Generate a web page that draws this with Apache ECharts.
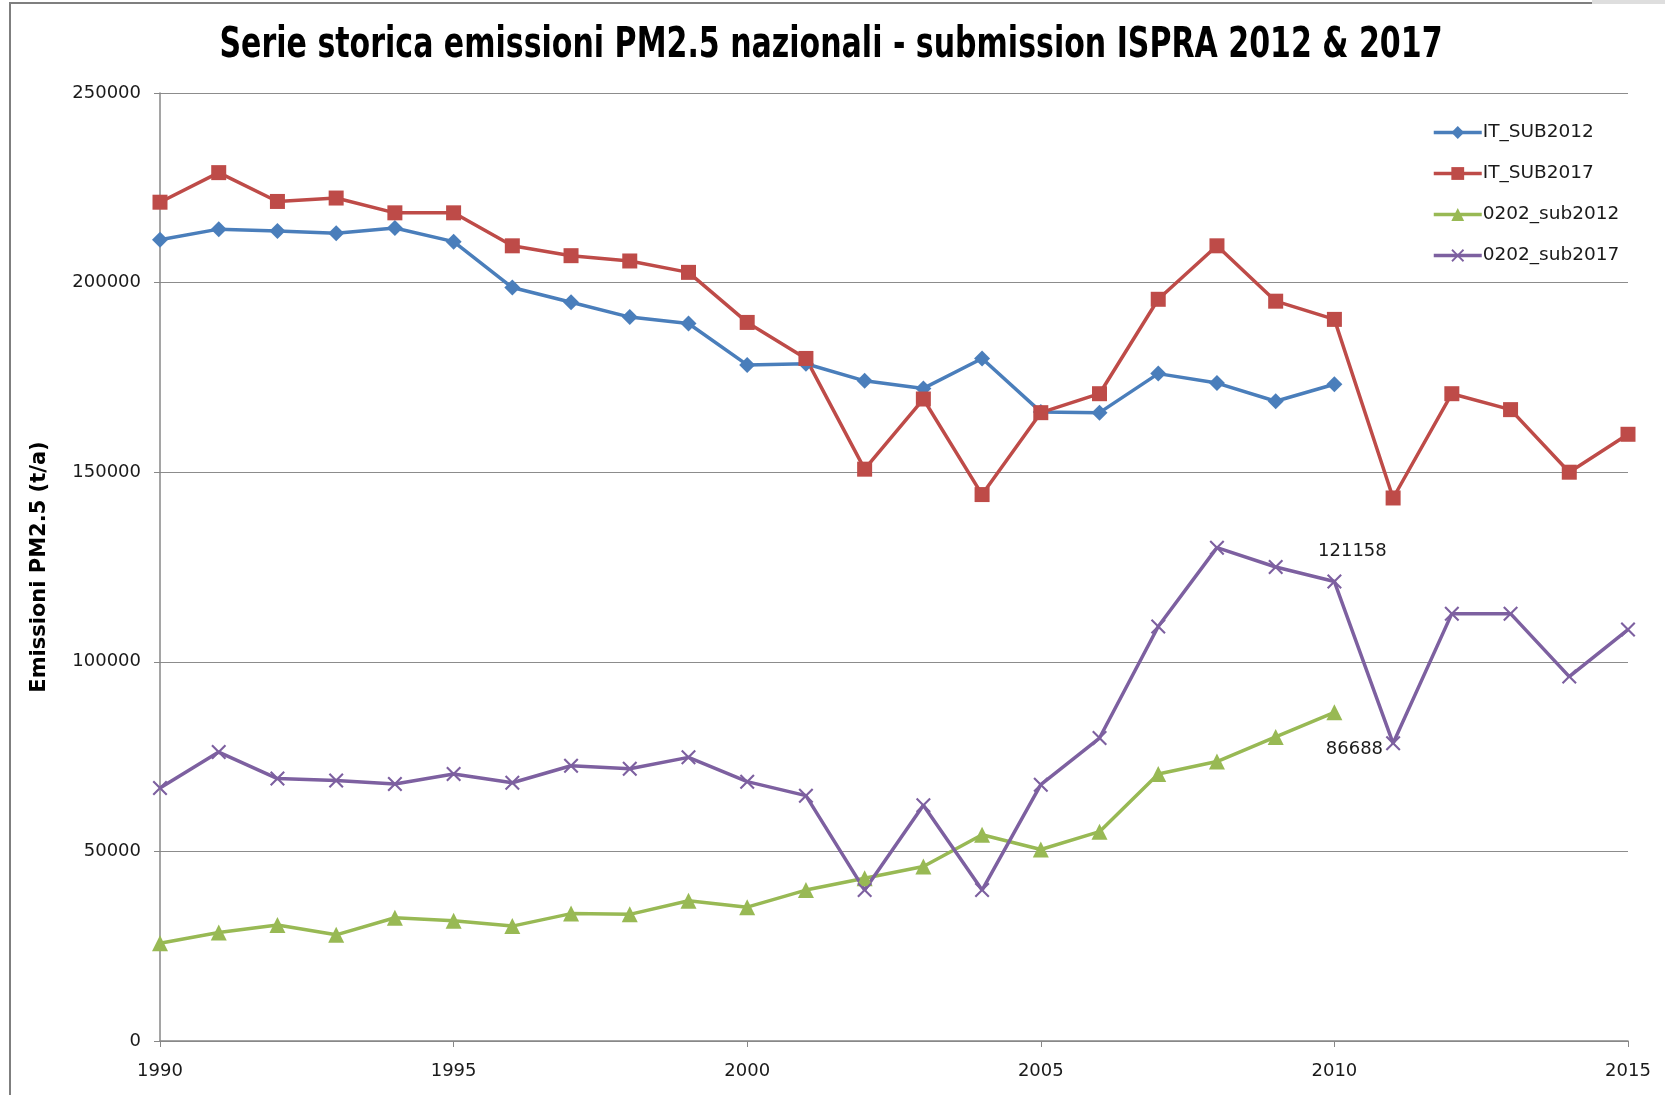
<!DOCTYPE html>
<html lang="it">
<head>
    <meta charset="UTF-8">
    <title>Serie storica emissioni PM2.5</title>
    <script src="https://cdn.jsdelivr.net/npm/echarts@6/dist/echarts.min.js"></script>
    <style type="text/css">
        html, body { height: 100%; margin: 0; background: #ffffff; }
        #main { width: 1665px; height: 1095px; margin: 0; }
    </style>
</head>
<body>
    <div id="main"></div>
    <script type="text/javascript">
        // anni
        var years = [1990, 1991, 1992, 1993, 1994, 1995, 1996, 1997, 1998, 1999,
                     2000, 2001, 2002, 2003, 2004, 2005, 2006, 2007, 2008, 2009,
                     2010, 2011, 2012, 2013, 2014, 2015];
        var xTicks = [1990, 1995, 2000, 2005, 2010, 2015];
        var yTicks = [0, 50000, 100000, 150000, 200000, 250000];

        // emissioni (t/a)
        var itSub2012 = [211300, 214100, 213600, 213000, 214400, 210800, 198700, 194800, 190900, 189200,
                         178300, 178600, 174100, 172100, 180000, 165900, 165700, 176000, 173500, 168700,
                         173200];
        var itSub2017 = [221200, 229000, 221400, 222300, 218400, 218400, 209700, 207100, 205700, 202700,
                         189500, 180000, 150800, 169300, 144100, 165700, 170700, 195600, 209700, 195100,
                         190300, 143200, 170700, 166500, 150000, 160000];
        var sub2012_0202 = [25800, 28600, 30600, 28000, 32500, 31700, 30300, 33600, 33400, 37000,
                            35300, 39800, 42900, 46000, 54400, 50500, 55200, 70400, 73700, 80200,
                            86688];
        var sub2017_0202 = [66700, 76200, 69200, 68700, 67800, 70400, 68100, 72600, 71800, 74800,
                            68400, 64700, 39800, 62200, 39800, 67600, 79900, 109300, 130100, 125000,
                            121158, 78500, 112700, 112700, 96100, 108500];

        var seriesNames = ['IT_SUB2012', 'IT_SUB2017', '0202_sub2012', '0202_sub2017'];
        var lineColors = ['#4A7EBB', '#BE4B48', '#98B954', '#7D60A0'];
        var titleText = 'Serie storica emissioni PM2.5 nazionali - submission ISPRA 2012 & 2017';

        // simbolo a X
        var crossPath = 'path://M0,1 L1,0 L5,4 L9,0 L10,1 L6,5 L10,9 L9,10 L5,6 L1,10 L0,9 L4,5 Z';

        // etichetta solo sul punto labelIdx
        function toPairs(values, labelIdx, labelOffset) {
            return values.map(function (v, i) {
                var item = { value: [years[i], v] };
                if (i === labelIdx) {
                    item.label = {
                        show: true,
                        position: 'inside',
                        offset: labelOffset,
                        color: '#1a1a1a',
                        fontFamily: 'DejaVu Sans',
                        fontSize: 18,
                        formatter: function (p) { return String(p.value[1]); }
                    };
                }
                return item;
            });
        }

        function makeSeries(name, values, color, symbol, size, labelIdx, labelOffset) {
            return {
                name: name,
                type: 'line',
                data: toPairs(values, labelIdx, labelOffset),
                symbol: symbol,
                symbolSize: size,
                showAllSymbol: true,
                lineStyle: { color: color, width: 3.5 },
                itemStyle: { color: color },
                emphasis: { disabled: true },
                z: 3
            };
        }

        var chartDom = document.getElementById('main');
        var myChart = echarts.init(chartDom);

        var option = {
            animation: false,
            backgroundColor: '#ffffff',
            legend: {
                orient: 'vertical',
                left: 1427,
                top: 118,
                itemWidth: 48,
                itemHeight: 16,
                itemGap: 22,
                data: seriesNames,
                lineStyle: { width: 3.5 },
                textStyle: {
                    fontFamily: 'DejaVu Sans',
                    fontSize: 18.5,
                    color: '#1a1a1a',
                    padding: [0, 0, 0, -4]
                }
            },
            graphic: [
                {
                    type: 'rect',
                    shape: { x: 10, y: 3, width: 1700, height: 1200 },
                    style: { fill: 'none', stroke: '#7f7f7f', lineWidth: 2 },
                    silent: true
                },
                {
                    type: 'rect',
                    shape: { x: 1592, y: 0, width: 73, height: 4 },
                    style: { fill: '#dedede' },
                    silent: true
                },
                {
                    // titolo, compresso in orizzontale come un carattere narrow
                    type: 'text',
                    x: 831,
                    y: 25,
                    scaleX: 0.715,
                    style: {
                        text: titleText,
                        x: 0,
                        y: 0,
                        align: 'center',
                        verticalAlign: 'top',
                        fontFamily: 'DejaVu Sans',
                        fontWeight: 'bold',
                        fontSize: 42,
                        fill: '#000000'
                    },
                    silent: true
                }
            ],
            grid: {
                left: 160,
                right: 37,
                top: 93,
                bottom: 54
            },
            xAxis: {
                type: 'value',
                min: 1990,
                max: 2015,
                interval: 5,
                axisLine: { show: true, lineStyle: { color: '#878787', width: 1.5 } },
                axisTick: { show: true, length: 6, lineStyle: { color: '#878787' } },
                splitLine: { show: false },
                axisLabel: {
                    margin: 21,
                    fontFamily: 'DejaVu Sans',
                    fontSize: 18,
                    color: '#1a1a1a',
                    formatter: function (v) { return xTicks.indexOf(v) >= 0 ? String(v) : ''; }
                }
            },
            yAxis: {
                type: 'value',
                min: 0,
                max: 250000,
                interval: 50000,
                name: 'Emissioni PM2.5 (t/a)',
                nameLocation: 'middle',
                nameGap: 110,
                nameRotate: 90,
                nameTextStyle: {
                    fontFamily: 'DejaVu Sans',
                    fontWeight: 'bold',
                    fontSize: 21,
                    color: '#000000'
                },
                axisLine: { show: true, lineStyle: { color: '#878787', width: 1.5 } },
                axisTick: { show: true, length: 6, lineStyle: { color: '#878787' } },
                splitLine: { show: true, lineStyle: { color: '#8c8c8c', width: 1 } },
                axisLabel: {
                    margin: 19,
                    fontFamily: 'DejaVu Sans',
                    fontSize: 18,
                    color: '#1a1a1a',
                    formatter: function (v) { return yTicks.indexOf(v) >= 0 ? String(v) : ''; }
                }
            },
            series: [
                makeSeries(seriesNames[0], itSub2012, lineColors[0], 'diamond', 16, -1),
                makeSeries(seriesNames[1], itSub2017, lineColors[1], 'rect', 15, -1),
                makeSeries(seriesNames[2], sub2012_0202, lineColors[2], 'triangle', 16, 20, [20, 37]),
                makeSeries(seriesNames[3], sub2017_0202, lineColors[3], crossPath, 15, 20, [18, -30])
            ]
        };

        myChart.setOption(option);
    </script>
</body>
</html>
